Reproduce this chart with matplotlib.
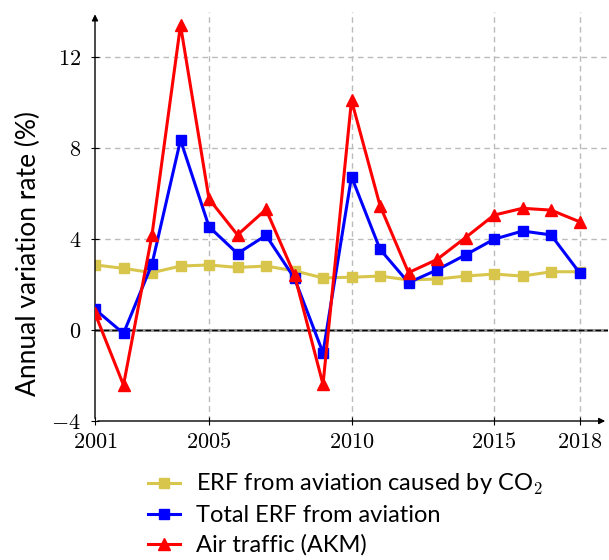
import matplotlib
matplotlib.use("Agg")
import matplotlib.pyplot as plt
from matplotlib.ticker import FuncFormatter

years = list(range(2001, 2019))
erf_co2 = [2.86, 2.71, 2.52, 2.81, 2.86, 2.75, 2.81, 2.6, 2.29, 2.32, 2.37, 2.2,
           2.24, 2.37, 2.46, 2.37, 2.56, 2.56]
erf_total = [0.91, -0.15, 2.9, 8.35, 4.54, 3.36, 4.16, 2.27, -1.0, 6.74, 3.55, 2.08,
             2.64, 3.3, 3.99, 4.35, 4.18, 2.52]
air_traffic = [0.73, -2.42, 4.18, 13.4, 5.76, 4.18, 5.3, 2.42, -2.39, 10.1, 5.47, 2.52,
               3.1, 4.06, 5.05, 5.35, 5.27, 4.76]
x_ticks = [2001, 2005, 2010, 2015, 2018]
y_ticks = [-4, 0, 4, 8, 12]

plt.rcParams['mathtext.fontset'] = 'cm'
plt.rcParams['font.family'] = ['Lato', 'DejaVu Sans']

fig = plt.figure(figsize=(6.09, 5.6), dpi=100)
ax = fig.add_axes([95/609, 139/560, 513/609, 409.5/560])

ax.set_xlim(2001, 2019)
ax.set_ylim(-4, 14)

# grille
for xt in x_ticks[1:]:
    ax.axvline(xt, color='#bbbbbb', lw=1, dashes=(4, 3), zorder=0)
for yt in y_ticks[1:]:
    ax.axhline(yt, color='#bbbbbb', lw=1, dashes=(4, 3), zorder=0)
ax.axhline(0, color='#999999', lw=2.2, zorder=1)
ax.axhline(0, color='black', lw=1, dashes=(4, 2), zorder=1)

ax.plot(years, erf_co2, color='#d8c64c', lw=2.2, marker='s', ms=7.5,
        label='ERF from aviation caused by CO$_2$', zorder=3)
ax.plot(years, erf_total, color='#0000ff', lw=2.2, marker='s', ms=7.5,
        label='Total ERF from aviation', zorder=4)
ax.plot(years, air_traffic, color='#ff0000', lw=2.2, marker='^', ms=8.5,
        label='Air traffic (AKM)', zorder=5)

for s in ['top', 'right', 'left', 'bottom']:
    ax.spines[s].set_visible(False)
ax.annotate('', xy=(1, 0), xytext=(0, 0), xycoords='axes fraction',
            arrowprops=dict(arrowstyle='-|>', lw=1, color='black', mutation_scale=9))
ax.annotate('', xy=(0, 1), xytext=(0, 0), xycoords='axes fraction',
            arrowprops=dict(arrowstyle='-|>', lw=1, color='black', mutation_scale=9))

ax.set_xticks(x_ticks)
ax.set_yticks(y_ticks)
fmt = FuncFormatter(lambda v, p: '$%d$' % v)
ax.xaxis.set_major_formatter(fmt)
ax.yaxis.set_major_formatter(fmt)
ax.tick_params(direction='inout', length=6, width=0.8, labelsize=16)
ax.tick_params(axis='x', pad=5)
ax.tick_params(axis='y', pad=7)

ax.set_ylabel('Annual variation rate (%)', fontsize=19)
ax.yaxis.set_label_coords(-0.105, 0.41)

fig.legend(loc='upper left', bbox_to_anchor=(148/609, 1 - 472/560), frameon=False,
           fontsize=17, borderpad=0, borderaxespad=0, handlelength=1.35,
           handletextpad=0.7, labelspacing=0.35)

fig.savefig('out.png', dpi=100)
